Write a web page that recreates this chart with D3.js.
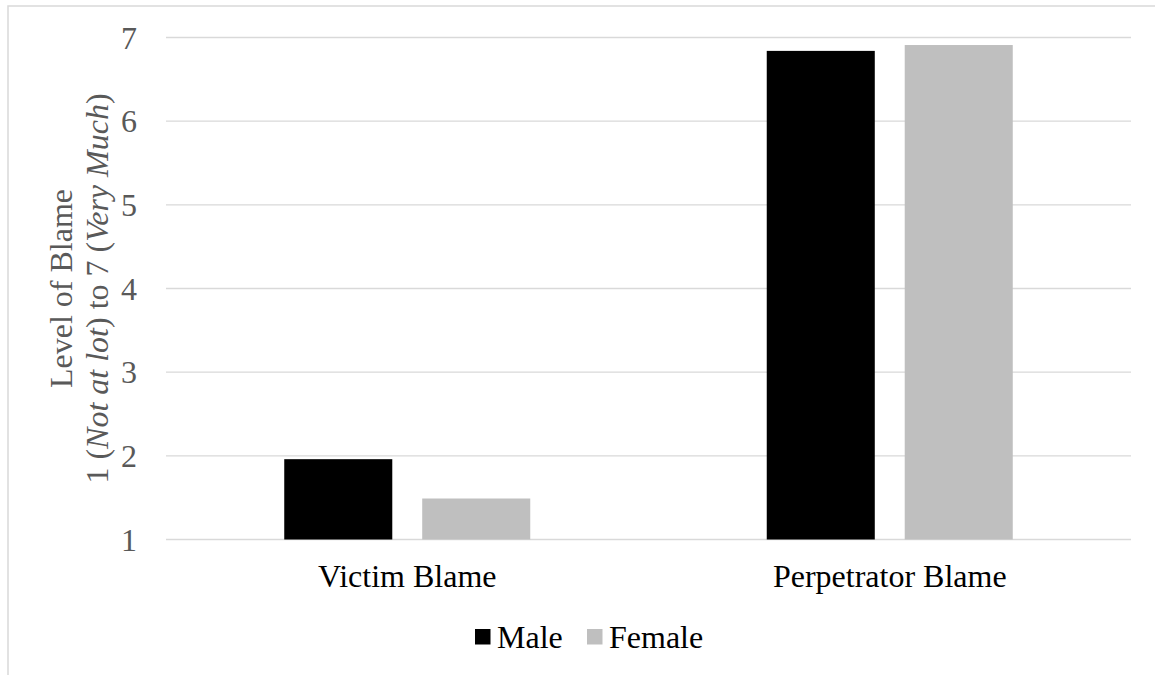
<!DOCTYPE html>
<html>
<head>
<meta charset="utf-8">
<script src="https://cdn.jsdelivr.net/npm/d3@7"></script>
</head>
<body style="margin:0">
<svg id="blame-fig" width="1155" height="675"></svg>
<script>
// Mean blame ratings by participant gender
const categories = ["Victim Blame", "Perpetrator Blame"];
const series = ["Male", "Female"];
const maleValues = [1.96, 6.84];
const femaleValues = [1.49, 6.91];
const yTicks = [1, 2, 3, 4, 5, 6, 7];
const seriesColors = ["#000000", "#bfbfbf"];

const rows = categories.map((c, i) => ({
  category: c,
  values: [
    { key: series[0], value: maleValues[i] },
    { key: series[1], value: femaleValues[i] }
  ]
}));

const svg = d3.select("#blame-fig");
const plot = { left: 166, right: 1131, top: 37.5, bottom: 539.5 };

// chart area frame
svg.append("rect")
  .attr("x", 8).attr("y", 6)
  .attr("width", 1200).attr("height", 800)
  .attr("fill", "none")
  .attr("stroke", "#d9d9d9")
  .attr("stroke-width", 1.5);

const y = d3.scaleLinear().domain([1, 7]).range([plot.bottom, plot.top]);
const x0 = d3.scaleBand().domain(categories).range([plot.left, plot.right]);
const x1 = d3.scaleBand().domain(series).range([0, x0.bandwidth()])
  .paddingInner(0.217).paddingOuter(0.857);
const color = d3.scaleOrdinal().domain(series).range(seriesColors);

// every label uses the same serif face
const faceName = ["Liberation", "Serif"].join(" ");
function serif(sel) {
  return sel.attr("font-family", faceName)
    .style("font-family", `"${faceName}"`)
    .style("font-size", "32px");
}

// gridlines
svg.append("g").selectAll("line")
  .data(yTicks).join("line")
  .attr("x1", plot.left).attr("x2", plot.right)
  .attr("y1", d => y(d)).attr("y2", d => y(d))
  .attr("stroke", "#d9d9d9").attr("stroke-width", 1.4);

// value labels
svg.append("g").selectAll("text")
  .data(yTicks).join("text")
  .attr("x", plot.left - 29)
  .attr("y", d => y(d) + 11)
  .attr("text-anchor", "end")
  .attr("fill", "#595959")
  .text(d => String(d))
  .call(serif);

// bars
const groups = svg.append("g").selectAll("g")
  .data(rows).join("g")
  .attr("transform", d => `translate(${x0(d.category)},0)`);
groups.selectAll("rect")
  .data(d => d.values).join("rect")
  .attr("x", d => x1(d.key))
  .attr("width", x1.bandwidth())
  .attr("y", d => y(d.value))
  .attr("height", d => y(1) - y(d.value))
  .attr("fill", d => color(d.key));

// category labels
svg.append("g").selectAll("text")
  .data(categories).join("text")
  .attr("x", d => x0(d) + x0.bandwidth() / 2)
  .attr("y", plot.bottom + 47.5)
  .attr("text-anchor", "middle")
  .attr("fill", "#000")
  .text(d => d)
  .call(serif);

// value axis title (two lines)
const title = svg.append("text")
  .attr("transform", `translate(0,${(plot.top + plot.bottom) / 2}) rotate(-90)`)
  .attr("text-anchor", "middle")
  .attr("fill", "#595959")
  .call(serif);
title.append("tspan").attr("x", 0).attr("y", 72).text("Level of Blame");
const line2 = title.append("tspan").attr("x", 0).attr("y", 108);
line2.append("tspan").text("1 (");
line2.append("tspan").style("font-style", "italic").text("Not at lot");
line2.append("tspan").text(") to 7 (");
line2.append("tspan").style("font-style", "italic").text("Very Much");
line2.append("tspan").text(")");

// legend
const legend = svg.append("g").attr("transform", "translate(475,648)");
const legendX = [0, 112];
const items = legend.selectAll("g").data(series).join("g")
  .attr("transform", (d, i) => `translate(${legendX[i]},0)`);
items.append("rect")
  .attr("x", 0).attr("y", -19)
  .attr("width", 15.5).attr("height", 15.5)
  .attr("fill", d => color(d));
items.append("text")
  .attr("x", 22).attr("y", 0)
  .attr("fill", "#000")
  .text(d => d)
  .call(serif);
</script>
</body>
</html>
